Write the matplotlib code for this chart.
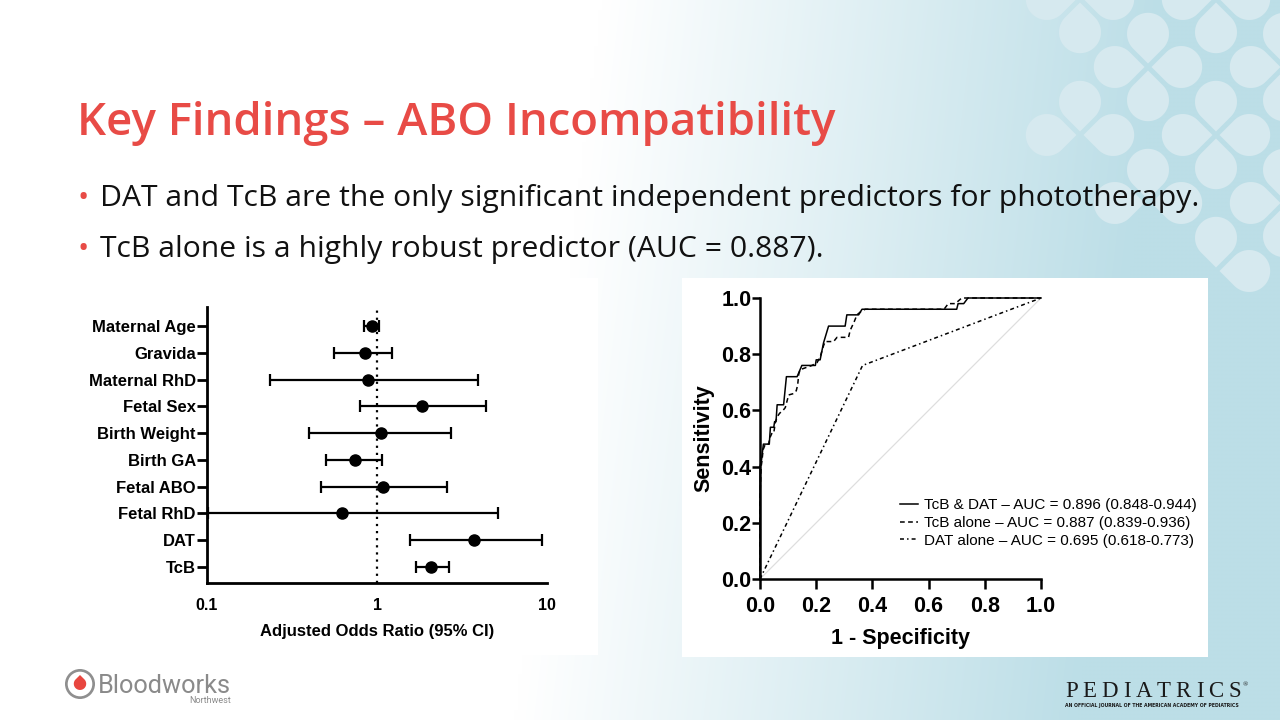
import numpy as np
import matplotlib
matplotlib.use("Agg")
import matplotlib.pyplot as plt
from matplotlib.patches import Polygon, Rectangle, Circle
from matplotlib.path import Path

# ---------------- data ----------------
predictors = ["Maternal Age", "Gravida", "Maternal RhD", "Fetal Sex", "Birth Weight",
              "Birth GA", "Fetal ABO", "Fetal RhD", "DAT", "TcB"]
aor = [0.93, 0.85, 0.88, 1.84, 1.06, 0.74, 1.09, 0.62, 3.73, 2.08]
ci_low = [0.84, 0.56, 0.235, 0.79, 0.40, 0.50, 0.47, 0.102, 1.56, 1.69]
ci_high = [1.03, 1.23, 3.92, 4.39, 2.72, 1.07, 2.57, 5.16, 9.37, 2.66]
forest_ticks = [0.1, 1, 10]
forest_ticklabels = ["0.1", "1", "10"]

roc_both_fpr = [0.0, 0.0, 0.005, 0.012, 0.033, 0.037, 0.049, 0.052, 0.057, 0.061, 0.084,
                0.094, 0.132, 0.149, 0.197, 0.200, 0.214, 0.226, 0.232, 0.244, 0.303,
                0.309, 0.351, 0.363, 0.700, 0.705, 0.725, 0.740, 1.0]
roc_both_tpr = [0.0, 0.40, 0.42, 0.48, 0.48, 0.54, 0.54, 0.56, 0.56, 0.62, 0.62,
                0.72, 0.72, 0.76, 0.76, 0.78, 0.78, 0.84, 0.86, 0.90, 0.90,
                0.94, 0.94, 0.96, 0.96, 0.98, 0.98, 1.0, 1.0]
roc_tcb_fpr = [0.0, 0.0, 0.004, 0.007, 0.011, 0.019, 0.031, 0.034, 0.043, 0.049, 0.055,
               0.063, 0.070, 0.082, 0.090, 0.098, 0.102, 0.120, 0.129, 0.134, 0.138,
               0.143, 0.185, 0.203, 0.214, 0.226, 0.232, 0.262, 0.274, 0.315, 0.321,
               0.335, 0.345, 0.363, 0.375, 0.655, 0.670, 0.695, 0.718, 1.0]
roc_tcb_tpr = [0.0, 0.30, 0.40, 0.42, 0.46, 0.48, 0.48, 0.50, 0.52, 0.52, 0.56,
               0.58, 0.59, 0.60, 0.61, 0.64, 0.655, 0.66, 0.67, 0.69, 0.73,
               0.745, 0.76, 0.77, 0.79, 0.83, 0.845, 0.845, 0.86, 0.86, 0.885,
               0.915, 0.94, 0.955, 0.96, 0.96, 0.98, 0.98, 1.0, 1.0]
roc_dat_fpr = [0.0, 0.365, 1.0]
roc_dat_tpr = [0.0, 0.76, 1.0]
roc_labels = ["TcB & DAT \u2013 AUC = 0.896 (0.848-0.944)",
              "TcB alone \u2013 AUC = 0.887 (0.839-0.936)",
              "DAT alone \u2013 AUC = 0.695 (0.618-0.773)"]
roc_ticks = [0.0, 0.2, 0.4, 0.6, 0.8, 1.0]
roc_ticklabels = ["0.0", "0.2", "0.4", "0.6", "0.8", "1.0"]

title = "Key Findings \u2013 ABO Incompatibility"
bullets = ["DAT and TcB are the only significant independent predictors for phototherapy.",
           "TcB alone is a highly robust predictor (AUC = 0.887)."]

# ---------------- figure ----------------
plt.rcParams['font.family'] = ['Liberation Sans', 'DejaVu Sans']
W, H = 1280, 720
fig = plt.figure(figsize=(12.8, 7.2), dpi=100)
renderer = fig.canvas.get_renderer()

bg = fig.add_axes([0, 0, 1, 1])
bg.set_xlim(0, W)
bg.set_ylim(H, 0)
bg.axis('off')

# gradient background
gx = np.linspace(0, W, 320)
gy = np.linspace(0, H, 180)
GX, GY = np.meshgrid(gx, gy)
t = np.clip((GX - 560 + 0.12 * (GY - 360)) / 560.0, 0, 1)
c0 = np.array([255, 255, 255]) / 255.0
c1 = np.array([188, 222, 231]) / 255.0
img = c0[None, None, :] * (1 - t[..., None]) + c1[None, None, :] * t[..., None]
bg.imshow(img, extent=(0, W, H, 0), aspect='auto', interpolation='bilinear', zorder=0)


def teardrop(tip, u, R):
    tip = np.asarray(tip, float)
    u = np.asarray(u, float)
    d = R * np.sqrt(2)
    C = tip + d * u
    phi = np.arctan2(-u[1], -u[0])
    a = np.linspace(phi + np.pi / 4, phi + 2 * np.pi - np.pi / 4, 60)
    pts = np.column_stack([C[0] + R * np.cos(a), C[1] + R * np.sin(a)])
    return np.vstack([tip, pts]), C


region = Path([(1046, -60), (1046, 140), (1100, 150), (1100, 225), (1170, 225),
               (1200, 290), (1340, 290), (1340, -60)])
for a in range(-4, 5):
    for b in range(-3, 5):
        if (a + b) % 2:
            continue
        F = np.array([1148 + 68 * a, 67 + 68 * b], float)
        for u in [(1, 0), (-1, 0), (0, 1), (0, -1)]:
            uu = np.array(u, float)
            pts, C = teardrop(F + 3.5 * uu, uu, 21)
            if region.contains_point(C):
                bg.add_patch(Polygon(pts, closed=True, facecolor='#d6e9ef',
                                     edgecolor='none', zorder=1))

# white panels
bg.add_patch(Rectangle((30, 278), 598 - 30, 655 - 278, facecolor='white', edgecolor='none', zorder=2))
bg.add_patch(Rectangle((682, 278), 1208 - 682, 657 - 278, facecolor='white', edgecolor='none', zorder=2))


def fit(txt, width):
    w = txt.get_window_extent(renderer=renderer).width
    txt.set_fontsize(txt.get_fontsize() * width / w)


red = '#e84b46'
tt = bg.text(77, 135.5, title, fontfamily='Open Sans', fontweight='semibold', color=red,
             fontsize=38, va='baseline', ha='left', zorder=5)
fit(tt, 760)

b1 = bg.text(100, 206, bullets[0], fontfamily='Open Sans', color='#111111',
             fontsize=22, va='baseline', ha='left', zorder=5)
fit(b1, 1097)
fs_b = b1.get_fontsize()
bg.text(100, 257, bullets[1], fontfamily='Open Sans', color='#111111',
        fontsize=fs_b, va='baseline', ha='left', zorder=5)
for yb in (206, 257):
    bg.text(77, yb, '\u2022', fontfamily='Open Sans', color=red, fontsize=fs_b,
            va='baseline', ha='left', zorder=5)

# Bloodworks logo
bg.add_patch(Circle((80, 684), 15, facecolor='#8f8f8f', edgecolor='none', zorder=5))
bg.add_patch(Circle((80, 684), 12.3, facecolor='white', edgecolor='none', zorder=6))
drop, _ = teardrop((80, 675), (0, 1), 6.2)
bg.add_patch(Polygon(drop, closed=True, facecolor='#e8463f', edgecolor='none', zorder=7))
bw = bg.text(98, 693, "Bloodworks", fontfamily='Roboto', color='#8a8a8a', fontsize=19,
             va='baseline', ha='left', zorder=5)
fit(bw, 133)
bg.text(231, 703, "Northwest", fontfamily='Roboto', color='#8a8a8a', fontsize=6.5,
        va='baseline', ha='right', zorder=5)


def spaced(s, x0, x1, y, **kw):
    ts = [bg.text(x0, y, ch, va='baseline', ha='left', zorder=5, **kw) for ch in s]
    ws = [tx.get_window_extent(renderer=renderer).width for tx in ts]
    gap = (x1 - x0 - sum(ws)) / (len(s) - 1)
    x = x0
    for tx, w in zip(ts, ws):
        tx.set_x(x)
        x += w + gap


spaced("PEDIATRICS", 1065, 1241, 697, fontfamily='Liberation Serif', fontsize=16.5, color='#1a1a1a')
bg.text(1243, 686, "\u00ae", fontfamily='Liberation Serif', fontsize=5, color='#1a1a1a',
        va='baseline', ha='left', zorder=5)
tg = bg.text(1065, 707, "AN OFFICIAL JOURNAL OF THE AMERICAN ACADEMY OF PEDIATRICS",
             fontfamily='Liberation Sans Narrow', fontweight='bold', fontsize=4.5,
             color='#1a1a1a', va='baseline', ha='left', zorder=5)
fit(tg, 174)


def px_axes(x0, y0, x1, y1):
    return [x0 / W, 1 - y1 / H, (x1 - x0) / W, (y1 - y0) / H]


# ---------------- forest plot ----------------
ax1 = fig.add_axes(px_axes(207, 307, 547, 583))
ax1.set_facecolor('white')
n = len(predictors)
ypos = np.arange(n)[::-1]
aor_a = np.array(aor)
lo = aor_a - np.array(ci_low)
hi = np.array(ci_high) - aor_a
ax1.axvline(1, ls=(0, (1, 2.2)), color='black', lw=1.6, zorder=1)
ax1.errorbar(aor_a, ypos, xerr=[lo, hi], fmt='o', color='black', ms=8,
             elinewidth=1.6, capsize=4, capthick=1.6, zorder=3, clip_on=False)
ax1.set_xscale('log')
ax1.set_xlim(0.1, 10)
ax1.set_ylim(-0.6, 9.71)
ax1.set_xticks(forest_ticks)
ax1.set_xticklabels(forest_ticklabels)
ax1.xaxis.set_minor_locator(matplotlib.ticker.NullLocator())
ax1.set_yticks(ypos)
ax1.set_yticklabels(predictors)
for s in ['top', 'right']:
    ax1.spines[s].set_visible(False)
for s in ['left', 'bottom']:
    ax1.spines[s].set_linewidth(2.0)
ax1.tick_params(axis='y', length=7.2, width=2.0, pad=0.8, labelsize=12)
ax1.tick_params(axis='x', length=0, pad=10.5, labelsize=11.5)
for lab in ax1.get_xticklabels() + ax1.get_yticklabels():
    lab.set_fontweight('bold')
ax1.set_xlabel("Adjusted Odds Ratio (95% CI)", fontsize=12, fontweight='bold')
ax1.xaxis.set_label_coords(0.5, (583 - 624) / 276.0)

# ---------------- ROC plot ----------------
ax2 = fig.add_axes(px_axes(760, 298, 1041, 579))
ax2.set_facecolor('white')
ax2.plot([0, 1], [0, 1], color='#dedede', lw=0.9, zorder=1)
ax2.plot(roc_both_fpr, roc_both_tpr, color='black', lw=1.1, ls='-', label=roc_labels[0],
         clip_on=False, zorder=4)
ax2.plot(roc_tcb_fpr, roc_tcb_tpr, color='black', lw=1.1, ls=(0, (3.1, 2.2)), label=roc_labels[1],
         clip_on=False, zorder=3)
ax2.plot(roc_dat_fpr, roc_dat_tpr, color='black', lw=1.1, ls=(0, (2.6, 2.0, 1.0, 2.0)),
         label=roc_labels[2], clip_on=False, zorder=3)
ax2.set_xlim(0, 1)
ax2.set_ylim(0, 1)
ax2.set_xticks(roc_ticks)
ax2.set_xticklabels(roc_ticklabels)
ax2.set_yticks(roc_ticks)
ax2.set_yticklabels(roc_ticklabels)
for s in ['top', 'right']:
    ax2.spines[s].set_visible(False)
for s in ['left', 'bottom']:
    ax2.spines[s].set_linewidth(1.8)
ax2.tick_params(axis='y', length=5.8, width=1.8, pad=0.3, labelsize=15.5)
ax2.tick_params(axis='x', length=7.2, width=1.8, pad=5.0, labelsize=15.5)
for lab in ax2.get_xticklabels() + ax2.get_yticklabels():
    lab.set_fontweight('bold')
ax2.set_xlabel("1 - Specificity", fontsize=15.5, fontweight='bold')
ax2.xaxis.set_label_coords(0.5, (579 - 628) / 281.0)
ax2.set_ylabel("Sensitivity", fontsize=15.5, fontweight='bold')
ax2.yaxis.set_label_coords((714 - 760) / 281.0, 0.5)
leg = ax2.legend(loc='upper left', bbox_to_anchor=(0.498, 0.2876), frameon=False,
                 fontsize=11, handlelength=1.2, handletextpad=0.35, labelspacing=0.25,
                 borderpad=0, borderaxespad=0)

fig.savefig('out.png', dpi=100)
